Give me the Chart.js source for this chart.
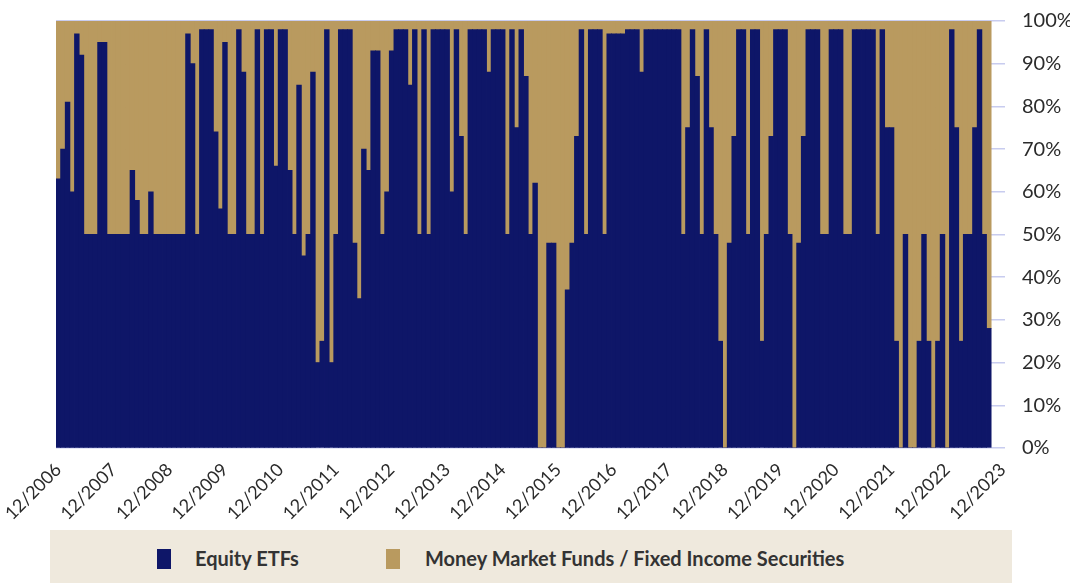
<!DOCTYPE html>
<html>
<head>
<meta charset="utf-8">
<script src="https://cdn.jsdelivr.net/npm/chart.js@4.4.1/dist/chart.umd.min.js"></script>
<style>
  html, body { margin: 0; padding: 0; background: #fff; }
  #wrap { position: relative; width: 1070px; height: 583px; }
  #chart { position: absolute; left: 0; top: 0; }
  .legend {
    position: absolute; left: 50px; top: 530px; width: 962px; height: 53px;
    background: #EFE9DD; font-family: Lato, "Open Sans", sans-serif;
    font-weight: bold; font-size: 20px; color: #333;
  }
  .legend .sw { position: absolute; top: 19px; width: 14px; height: 20px; }
  .legend .txt { position: absolute; top: 16px; line-height: 24px; white-space: nowrap; }
</style>
</head>
<body>
<div id="wrap">
  <canvas id="chart" width="1070" height="583"></canvas>
  <div class="legend">
    <div class="sw" style="left:107px;background:#0E1668"></div>
    <div class="txt" style="left:145px">Equity ETFs</div>
    <div class="sw" style="left:336px;background:#B99A5F"></div>
    <div class="txt" style="left:375px">Money Market Funds / Fixed Income Securities</div>
  </div>
</div>
<script>
// month labels, 12/2006 .. 12/2023
const categories = [];
for (let y = 2006; y <= 2023; y++) {
    for (let m = 1; m <= 12; m++) {
        if (y === 2006 && m < 12) continue;
        categories.push(String(m).padStart(2, '0') + '/' + y);
    }
}

// equity ETF share (%) per month; one row per Dec..Nov year
const equityShare = [
    63, 70, 81, 60, 97, 92, 50, 50, 50, 95, 95, 50,
    50, 50, 50, 50, 65, 58, 50, 50, 60, 50, 50, 50,
    50, 50, 50, 50, 97, 90, 50, 98, 98, 98, 74, 56,
    95, 50, 50, 98, 88, 50, 50, 98, 50, 98, 98, 66,
    98, 98, 65, 50, 85, 45, 50, 88, 20, 25, 98, 20,
    50, 98, 98, 98, 48, 35, 70, 65, 93, 93, 50, 60,
    93, 98, 98, 98, 85, 98, 50, 98, 50, 98, 98, 98,
    98, 60, 98, 73, 50, 98, 98, 98, 98, 88, 98, 98,
    98, 50, 98, 75, 98, 87, 50, 62, 0, 0, 48, 48,
    0, 0, 37, 48, 73, 98, 50, 98, 98, 98, 50, 97,
    97, 97, 97, 98, 98, 98, 88, 98, 98, 98, 98, 98,
    98, 98, 98, 50, 75, 98, 87, 50, 98, 75, 50, 25,
    0, 48, 73, 98, 98, 50, 98, 98, 25, 50, 73, 98,
    98, 98, 50, 0, 48, 73, 98, 98, 98, 50, 50, 98,
    98, 98, 50, 50, 98, 98, 98, 98, 98, 50, 98, 75,
    75, 25, 0, 50, 0, 0, 25, 50, 25, 0, 25, 50,
    0, 98, 75, 25, 50, 50, 75, 98, 50, 28, null, null, null
];

// the rest of the allocation sits in money market funds / fixed income
const cashShare = equityShare.map(v => v === null ? null : 100 - v);

const yTicks = [0, 10, 20, 30, 40, 50, 60, 70, 80, 90, 100];

const NAVY = '#0E1668';
const GOLD = '#B99A5F';
const GRID = '#C8CCEF';
const TEXT = '#2b2b2b';

const ctx = document.getElementById('chart').getContext('2d');

new Chart(ctx, {
    type: 'bar',
    data: {
        labels: categories,
        datasets: [
            {
                label: 'Equity ETFs',
                data: equityShare,
                backgroundColor: NAVY,
                borderWidth: 0,
                barPercentage: 1,
                categoryPercentage: 1,
                inflateAmount: 0.4
            },
            {
                label: 'Money Market Funds / Fixed Income Securities',
                data: cashShare,
                backgroundColor: GOLD,
                borderWidth: 0,
                barPercentage: 1,
                categoryPercentage: 1,
                inflateAmount: 0.4
            }
        ]
    },
    options: {
        responsive: false,
        animation: false,
        layout: { padding: { left: 56, top: 21, right: 0, bottom: 55 } },
        plugins: {
            legend: { display: false },
            tooltip: { enabled: false }
        },
        scales: {
            x: {
                stacked: true,
                grid: { display: false },
                border: { display: false },
                ticks: {
                    autoSkip: false,
                    minRotation: 45,
                    maxRotation: 45,
                    padding: 3,
                    color: TEXT,
                    font: { family: 'Lato', size: 18 },
                    callback: (v, i) => categories[i].startsWith('12/') ? categories[i] : ''
                },
                afterFit: s => { s.paddingLeft = 0; s.paddingRight = 0; s.height = 80; }
            },
            y: {
                stacked: true,
                position: 'right',
                min: 0,
                max: 100,
                afterBuildTicks: s => { s.ticks = yTicks.map(v => ({ value: v })); },
                ticks: {
                    padding: 17,
                    color: TEXT,
                    font: { family: 'Lato', size: 20 },
                    callback: v => v + '%'
                },
                grid: { color: GRID, lineWidth: 1.5, drawTicks: false },
                border: { display: false },
                afterFit: s => { s.width = 65; s.paddingTop = 0; s.paddingBottom = 0; }
            }
        }
    }
});
</script>
</body>
</html>
